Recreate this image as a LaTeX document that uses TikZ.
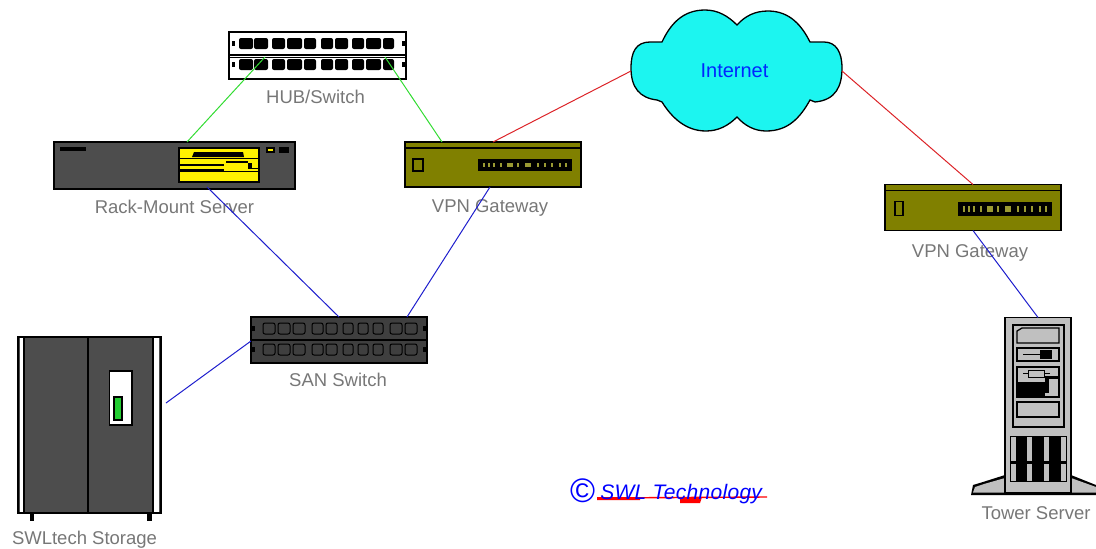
\documentclass[tikz,border=0pt]{standalone}
\usepackage{xcolor}
\usepackage{fontspec}
\setmainfont{Liberation Sans}
\newfontfamily\logofont[LetterSpace=1.5]{Liberation Sans}
\usepackage{tikz}
\usetikzlibrary{calc,positioning}
\definecolor{rackgray}{HTML}{4D4D4D}
\definecolor{sangray}{HTML}{3F3F3F}
\definecolor{towergray}{HTML}{C0C0C0}
\definecolor{vpnolive}{HTML}{808000}
\definecolor{netcyan}{HTML}{1CF5F0}
\definecolor{labelgray}{HTML}{777777}
\newcommand{\vpnfront}[3]{
    \begin{scope}[shift={(#1.north west)}]
        \draw[line width=1.2pt] (0,6) -- (176,6);
        \draw[line width=1.4pt] (#2,17) rectangle (18,#3);
        \fill[black] (73,17) rectangle (167,#3);
        \foreach \px/\pw in {78/2,83/2,88/2,95/2,102/6,112/2,120/6,132/2,139/2,146/2,154/2,160/2}
            \fill[vpnolive!80!white] (\px,21) rectangle (\px+\pw,#3-4);
    \end{scope}
}
\begin{document}
\begin{tikzpicture}[
    x=1pt, y=-1pt,
    device/.style={draw, line width=1.2pt, inner sep=0pt, outer sep=0pt},
    devlabel/.style={inner sep=0pt, text=labelgray, font=\fontsize{18.5}{20}\selectfont},
    lanlink/.style={line width=1pt, draw={rgb,255:red,50;green,220;blue,50}},
    wanlink/.style={line width=1pt, draw={rgb,255:red,220;green,35;blue,40}},
    sanlink/.style={line width=1pt, draw={rgb,255:red,30;green,30;blue,205}}
]
    \useasboundingbox (0,0) rectangle (1096,549);

    \node[device, line width=2pt, fill=white, minimum width=177pt, minimum height=47pt] (hub) at (317.5,55.5) {};
    \node[device, fill=rackgray, minimum width=241pt, minimum height=47pt, below=63pt of hub, xshift=-143pt] (rack) {};
    \node[device, fill=vpnolive, minimum width=176pt, minimum height=45pt, right=110pt of rack, yshift=1pt] (vpnA) {};
    \node[device, fill=sangray, minimum width=176pt, minimum height=46pt, below=130pt of vpnA, xshift=-154pt] (san) {};
    \node[device, fill=rackgray, minimum width=143pt, minimum height=176pt, left=90pt of san, yshift=-85pt] (storage) {};
    \node[device, fill=vpnolive, minimum width=176pt, minimum height=46pt, right=304pt of vpnA, yshift=-43pt] (vpnB) {};
    \node[minimum width=211pt, minimum height=122pt, inner sep=0pt, outer sep=0pt, right=50pt of vpnA, yshift=93.5pt] (cloudbox) {};

    \draw[line width=1.3pt, fill=netcyan] (631,68) .. controls (631,52) and (636,42) .. (650,42) -- (662,42)
        .. controls (670,25) and (682,10) .. (705,10) .. controls (718,10) and (728,16) .. (737,25)
        .. controls (745,16) and (755,11) .. (768,11) .. controls (790,11) and (802,26) .. (810,42) -- (824,42)
        .. controls (836,42) and (842,52) .. (842,68) .. controls (842,86) and (836,100) .. (815,102) -- (810,100)
        .. controls (800,118) and (788,131) .. (766,131) .. controls (755,131) and (745,126) .. (737,117)
        .. controls (728,126) and (718,131) .. (706,131) .. controls (686,131) and (672,118) .. (662,102) -- (657,100)
        .. controls (640,98) and (631,88) .. (631,68) -- cycle;
    \node[inner sep=0pt, text=blue!85!cyan, font=\fontsize{20}{22}\selectfont] (internet) at (734.5,71) {Internet};

    \fill[black] (1005,475) -- (983,482) -- (973,485) -- (971,495) -- (1096,495) -- (1096,485) -- (1071,475) -- cycle;
    \fill[towergray] (1005,478) -- (984,484) -- (975,487) -- (973,492.5) -- (1096,492.5) -- (1096,487) -- (1071,478) -- cycle;
    \node[device, fill=towergray, minimum width=66pt, minimum height=175pt, below=87pt of vpnB, xshift=65pt] (tower) {};

    \node[devlabel, below=11pt of hub, xshift=-2pt] (hublabel) {HUB/Switch};
    \node[devlabel, below=11pt of rack] (racklabel) {Rack-Mount Server};
    \node[devlabel, below=12pt of vpnA, xshift=-3pt] (vpnAlabel) {VPN Gateway};
    \node[devlabel, below=14pt of vpnB, xshift=-3pt] (vpnBlabel) {VPN Gateway};
    \node[devlabel, below=10pt of san, xshift=-1pt] (sanlabel) {SAN Switch};
    \node[devlabel, below=18pt of storage, xshift=-5pt] (storagelabel) {SWLtech Storage};
    \node[devlabel, below=14pt of tower, xshift=-2pt] (towerlabel) {Tower Server};

    \draw[line width=1.5pt] (230,55) -- (405,55);
    \draw[line width=1pt] (230,57.5) -- (405,57.5);
    \foreach \py in {38,59} {
        \foreach \pa/\pb in {239/253,254/268,272/285,287/302,304/316,321/333,335/348,352/364,366/381,383/394}
            \fill[black, rounded corners=2pt] (\pa,\py) rectangle (\pb,\py+11);
        \fill[black] (232,\py+3) rectangle (235,\py+8);
        \fill[black] (402,\py+3) rectangle (405,\py+8);
    }

    \fill[black] (60,147) rectangle (86,151);
    \fill[black] (266,147) rectangle (275,153);
    \fill[yellow] (268,149) rectangle (273,151);
    \fill[black] (279,147) rectangle (289,153);
    \draw[line width=1.3pt, fill=yellow] (179,148) rectangle (259,182);
    \fill[black] (194,152) -- (243,152) -- (244,157) -- (192,157) -- cycle;
    \fill[black] (180,157.5) rectangle (258,158.5);
    \fill[black] (180,164) rectangle (224,166);
    \fill[black] (180,169) rectangle (224,171);
    \fill[black] (180,171) rectangle (258,172);
    \fill[black] (226,161) rectangle (248,163);
    \fill[black] (248,163) rectangle (252,168);
    \fill[black] (248,168) rectangle (258,169);

    \vpnfront{vpnA}{8}{29}
    \vpnfront{vpnB}{10}{31}

    \foreach \py in {323,344} {
        \foreach \pa/\pb in {263/275,278/290,293/305,312/323,326/337,343/353,358/368,373/383,390/402,405/417}
            \draw[black, line width=1pt, rounded corners=2pt] (\pa,\py) rectangle (\pb,\py+11);
        \fill[black] (252,\py+3) rectangle (255,\py+8);
        \fill[black] (423,\py+3) rectangle (426,\py+8);
    }
    \draw[black, line width=1.2pt] (251,340) -- (427,340);

    \fill[white] (19.5,338) rectangle (23,512);
    \fill[white] (153.5,338) rectangle (159,512);
    \draw[line width=1.2pt] (24,338) -- (24,512) (153,338) -- (153,512) (88,338) -- (88,512);
    \fill[black] (29.5,513) rectangle (34,521);
    \fill[black] (147,513) rectangle (152,521);
    \draw[line width=1.4pt, fill=white] (109.5,371) rectangle (132,425);
    \draw[line width=1.4pt, fill={rgb,255:red,35;green,205;blue,50}] (114,397) rectangle (122,420);

    \draw[line width=2pt] (1013,325) rectangle (1064,427);
    \draw[line width=1.3pt] (1017,343) -- (1017,331) -- (1022,328) -- (1059,328) -- (1059,343) -- cycle;
    \draw[line width=1.3pt] (1017,348) rectangle (1059,361);
    \fill[black] (1023,354) rectangle (1040,355);
    \fill[black] (1040,350) rectangle (1052,359);
    \draw[line width=1.3pt] (1017,367) rectangle (1059,397);
    \fill[black] (1017,382) rectangle (1045,396);
    \fill[black] (1045,376) rectangle (1059,379);
    \fill[black] (1045,379) rectangle (1049,393);
    \draw[line width=1pt] (1028,370) rectangle (1044,377) (1023,373.5) -- (1028,373.5) (1044,373.5) -- (1050,373.5);
    \draw[line width=1.3pt] (1017,402) rectangle (1059,417);
    \fill[black] (1010,436) rectangle (1067,482);
    \foreach \px in {1011,1027,1044,1061} {
        \fill[towergray] (\px,437) rectangle ++(4.5,24);
        \fill[towergray] (\px,464) rectangle ++(4.5,17);
    }

    \coordinate (ulineL) at (597,498);
    \coordinate (ulineR) at (767,497);
    \draw[line width=1.4pt, red] (ulineL) -- (ulineR);
    \fill[red] (597,497) rectangle (640,500) (680,497) -- (702,497) -- (700,503) -- (680,503) -- cycle;
    \node[inner sep=0pt, anchor=west, text=blue, font=\logofont\fontsize{21}{24}\selectfont] (swl) at (570,491)
        {\raisebox{-3pt}{\fontsize{34}{34}\selectfont ©}\hspace{5pt}\itshape SWL Technology};

    \coordinate (storagePort) at ($(storage.east)+(5,-22)$);
    \draw[lanlink] ($(rack.north)+(12.5,0)$) -- ($(hub.center)+(-52.5,1.5)$);
    \draw[lanlink] ($(vpnA.north)+(-51,0)$) -- ($(hub.center)+(67.5,1.5)$);
    \draw[wanlink] (vpnA.north) -- (cloudbox.west);
    \draw[wanlink] (cloudbox.east) -- (vpnB.north);
    \draw[sanlink] ($(rack.south)+(32.5,-2)$) -- (san.north);
    \draw[sanlink] ($(vpnA.south)+(-3,0)$) -- ($(san.north)+(68,0)$);
    \draw[sanlink] (storagePort) -- ($(san.west)+(0,1)$);
    \draw[sanlink] (vpnB.south) -- (tower.north);
\end{tikzpicture}
\end{document}
